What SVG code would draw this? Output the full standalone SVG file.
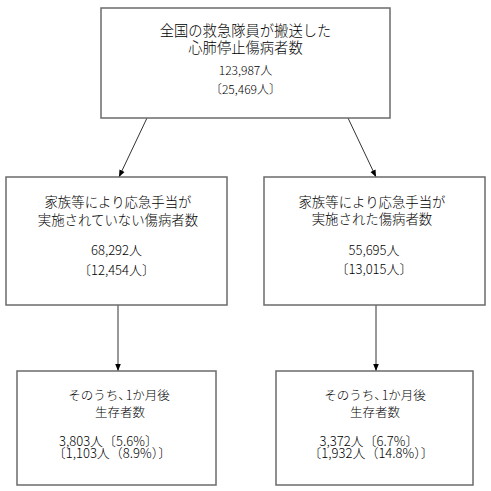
<svg xmlns="http://www.w3.org/2000/svg" width="491" height="491" viewBox="0 0 491 491">
<style>
.box{fill:#ffffff;stroke:#6b6b6b;stroke-width:1.5}
.edge{stroke:#333333;stroke-width:1;fill:none}
text{font-family:"Noto Sans CJK JP","Noto Sans",sans-serif;font-weight:300;fill:#000000;text-anchor:middle}
.t1{font-size:14.3px}
.t2{font-size:13.4px}
.t3{font-size:12.5px}
.n{font-size:12px}
.m{font-size:13px}
</style>
<defs>
<marker id="ah" viewBox="0 0 10 10" refX="10" refY="5" markerWidth="7" markerHeight="7" orient="auto" markerUnits="userSpaceOnUse">
<path d="M0,1 L10,5 L0,9 z" fill="#000000"/>
</marker>
</defs>
<rect width="491" height="491" fill="#ffffff"/>
<g id="connectors">
<line class="edge" x1="147" y1="118" x2="119" y2="177" marker-end="url(#ah)"/>
<line class="edge" x1="348" y1="118" x2="376" y2="177" marker-end="url(#ah)"/>
<line class="edge" x1="118" y1="305" x2="118" y2="371" marker-end="url(#ah)"/>
<line class="edge" x1="376" y1="305" x2="376" y2="371" marker-end="url(#ah)"/>
</g>
<g id="node-total">
<rect class="box" x="101" y="8" width="289" height="110"/>
<text class="t1"><tspan x="245.5" y="35.5">全国の救急隊員が搬送した</tspan><tspan x="245.5" y="53">心肺停止傷病者数</tspan></text>
<text class="n" x="245.5" y="74.5">123,987人</text>
<text class="n" x="245.5" y="93.5">〔25,469人〕</text>
</g>
<g id="node-not-treated">
<rect class="box" x="6" y="177" width="221" height="128"/>
<text class="t2"><tspan x="118" y="206.5">家族等により応急手当が</tspan><tspan x="118" y="224.5">実施されていない傷病者数</tspan></text>
<text class="m" x="116.5" y="254.5">68,292人</text>
<text class="m" x="116.5" y="274.5">〔12,454人〕</text>
</g>
<g id="node-treated">
<rect class="box" x="264" y="177" width="221" height="128"/>
<text class="t2"><tspan x="372" y="206.5">家族等により応急手当が</tspan><tspan x="372" y="224">実施された傷病者数</tspan></text>
<text class="m" x="374" y="254.5">55,695人</text>
<text class="m" x="374" y="273.5">〔13,015人〕</text>
</g>
<g id="node-survivors-left">
<rect class="box" x="17" y="371" width="199" height="114"/>
<text class="t3"><tspan x="119" y="399.5">そのうち、</tspan><tspan dx="-5">1か月後</tspan><tspan x="120" y="416.5">生存者数</tspan></text>
<text class="m"><tspan x="108.5" y="445.5">3,803人〔5.6%〕</tspan><tspan x="112" y="457.5">〔1,103人（8.9%）〕</tspan></text>
</g>
<g id="node-survivors-right">
<rect class="box" x="276" y="371" width="197" height="114"/>
<text class="t3"><tspan x="375" y="399.5">そのうち、</tspan><tspan dx="-5">1か月後</tspan><tspan x="375" y="416.5">生存者数</tspan></text>
<text class="m"><tspan x="369" y="445.5">3,372人〔6.7%〕</tspan><tspan x="371" y="457.5">〔1,932人（14.8%）〕</tspan></text>
</g>
</svg>
